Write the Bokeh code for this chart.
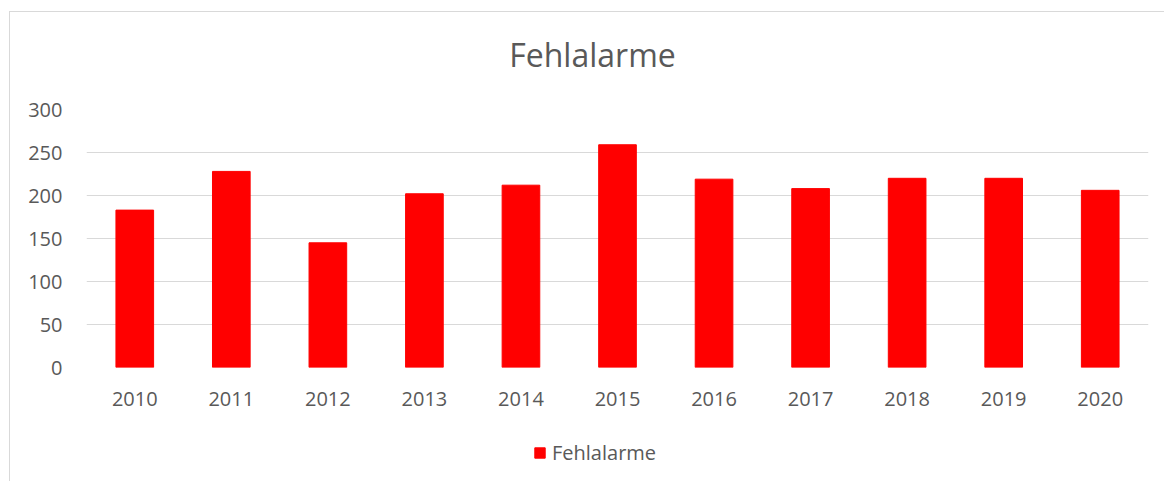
from bokeh.plotting import figure
from bokeh.layouts import column
from bokeh.models import Range1d, Legend, LegendItem, Label, FixedTicker
from bokeh.embed import file_html
from bokeh.resources import INLINE

years = ["2010", "2011", "2012", "2013", "2014", "2015", "2016", "2017", "2018", "2019", "2020"]
fehlalarme = [183, 228, 145, 202, 212, 259, 219, 208, 220, 220, 206]
y_ticks = [0, 50, 100, 150, 200, 250, 300]
series_name = "Fehlalarme"
title_text = "Fehlalarme"

FONT = "Open Sans"
TXT = "#595959"
BAR = "#FF0000"
EDGE = "1px solid #d9d9d9"

def blank(h, top_border):
    f = figure(width=1155, height=h, x_range=Range1d(0, 1), y_range=Range1d(1000, 1001),
               output_backend="svg", toolbar_location=None,
               x_axis_location=None, y_axis_location=None,
               min_border=0, min_border_left=0, min_border_right=0,
               min_border_top=0, min_border_bottom=0)
    f.grid.visible = False
    f.outline_line_color = None
    f.border_fill_color = "white"
    f.background_fill_color = "white"
    st = {"border-left": EDGE}
    if top_border:
        st["border-top"] = EDGE
    f.styles = st
    return f

# title strip
pt = blank(84, True)
pt.margin = (11, 0, 0, 9)
pt.add_layout(Label(x=506, y=42, x_units="screen", y_units="screen", text=title_text,
                    text_font=FONT, text_font_size="32px", text_color=TXT,
                    text_align="center", text_baseline="alphabetic"))

# main chart
p = figure(x_range=years, y_range=Range1d(0, 300),
           frame_width=1061, frame_height=258,
           output_backend="svg", toolbar_location=None,
           min_border_left=76, min_border_right=18, min_border_top=14, min_border_bottom=50)
p.margin = (0, 0, 0, 9)
p.styles = {"border-left": EDGE}
p.outline_line_color = None
p.background_fill_color = "white"
p.border_fill_color = "white"
p.vbar(x=years, top=fehlalarme, width=0.39, fill_color=BAR, line_color=BAR)

p.yaxis.ticker = FixedTicker(ticks=y_ticks)
p.ygrid.grid_line_color = "#d9d9d9"
p.xgrid.grid_line_color = None
for ax in (p.xaxis[0], p.yaxis[0]):
    ax.axis_line_color = None
    ax.major_tick_line_color = None
    ax.minor_tick_line_color = None
    ax.major_tick_out = 0
    ax.major_tick_in = 0
    ax.major_label_text_font = FONT
    ax.major_label_text_font_size = "20px"
    ax.major_label_text_color = TXT
p.xaxis.major_label_standoff = 24
p.yaxis.major_label_standoff = 24
p.x_range.range_padding = 0

# legend strip
pl = figure(width=1155, height=64, x_range=years, y_range=Range1d(1000, 1001),
            output_backend="svg", toolbar_location=None,
            x_axis_location=None, y_axis_location=None,
            min_border=0, min_border_left=0, min_border_right=0,
            min_border_top=0, min_border_bottom=0)
pl.grid.visible = False
pl.outline_line_color = None
pl.border_fill_color = "white"
pl.background_fill_color = "white"
pl.margin = (0, 0, 0, 9)
pl.styles = {"border-left": EDGE}
r = pl.vbar(x=years, top=fehlalarme, width=0.39, fill_color=BAR, line_color=BAR)
legend = Legend(items=[LegendItem(label=series_name, renderers=[r])],
                location=(447, 15), orientation="horizontal",
                label_text_font=FONT, label_text_font_size="20px", label_text_color=TXT,
                glyph_width=13, glyph_height=13, label_standoff=6,
                border_line_color=None, background_fill_alpha=0, margin=0, padding=0)
pl.add_layout(legend)

layout = column(pt, p, pl, spacing=0)
open("out.html", "w").write(file_html(layout, INLINE))
